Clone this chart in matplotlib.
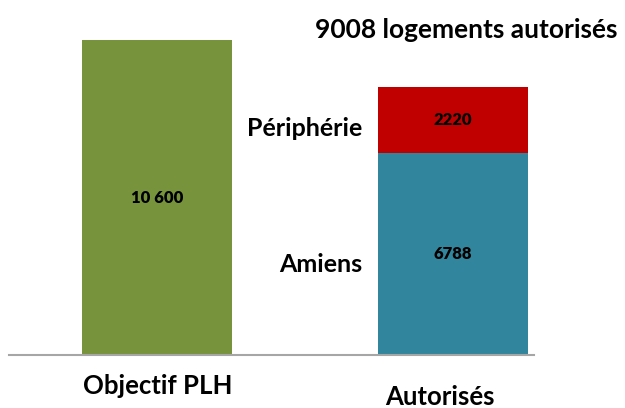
import matplotlib
matplotlib.use("Agg")
import matplotlib.pyplot as plt

categories = ["Objectif PLH", "Autorisés"]
objectif = [10600, 0]
amiens = [0, 6788]
peripherie = [0, 2220]
title = "9008 logements autorisés"

W, H = 625, 408
fig = plt.figure(figsize=(W / 100, H / 100), dpi=100)
plt.rcParams['font.family'] = ['Lato', 'DejaVu Sans']

# axes in pixel geometry
left_px, right_px = 9, 534
bottom_px, top_px = 355, 40
ax = fig.add_axes([left_px / W, (H - bottom_px) / H, (right_px - left_px) / W, (bottom_px - top_px) / H])

spacing = 295.0
x0 = -(157.5 - left_px) / spacing
x1 = 1 + (right_px - 452.5) / spacing
ax.set_xlim(x0, x1)
ax.set_ylim(0, 10600)
bw = 150 / spacing

green = "#77933C"
teal = "#31859C"
red = "#C00000"

ax.bar([0], [objectif[0]], width=bw, color=green)
ax.bar([1], [amiens[1]], width=bw, color=teal)
ax.bar([1], [peripherie[1]], width=bw, bottom=[amiens[1]], color=red)

vfont = dict(fontsize=12, fontweight='heavy', ha='center', va='center', color='black')
ax.text(0, objectif[0] / 2, "10 600", **vfont)
ax.text(1, amiens[1] / 2, str(amiens[1]), **vfont)
ax.text(1, amiens[1] + peripherie[1] / 2, str(peripherie[1]), **vfont)

lfont = dict(fontsize=18, fontweight='bold', va='center', ha='right', color='black')
fig.text(362 / W, 1 - 128 / H, "Périphérie", **lfont)
fig.text(362 / W, 1 - 265 / H, "Amiens", **lfont)

for s in ['top', 'right', 'left']:
    ax.spines[s].set_visible(False)
ax.spines['bottom'].set_color('#A6A6A6')
ax.spines['bottom'].set_linewidth(1.5)
ax.set_xticks([])
ax.set_yticks([])

fig.text(157.5 / W, 1 - 386 / H, categories[0], ha='center', va='center', fontsize=18.5, fontweight='bold')
fig.text(440 / W, 1 - 397 / H, categories[1], ha='center', va='center', fontsize=18.5, fontweight='bold')
fig.text(466 / W, 1 - 30 / H, title, ha='center', va='center', fontsize=19, fontweight='bold')

fig.savefig("out.png", dpi=100)
